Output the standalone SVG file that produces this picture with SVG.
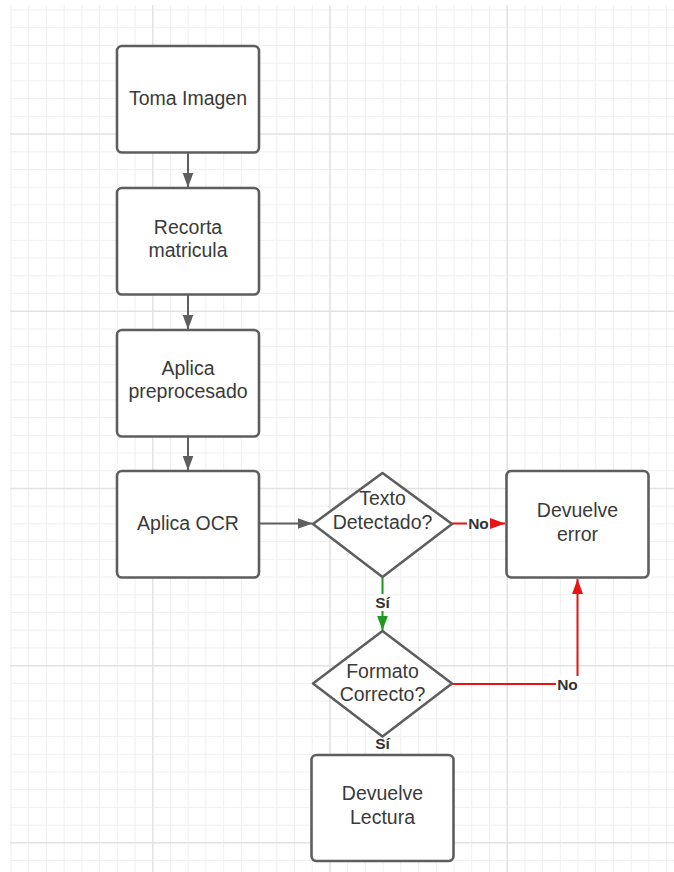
<svg xmlns="http://www.w3.org/2000/svg" width="674" height="872" viewBox="0 0 674 872">
  <defs>
    <style>
      .grid-minor { stroke: #efefef; stroke-width: 1; fill: none; }
      .grid-major { stroke: #e2e2e2; stroke-width: 1.5; fill: none; }
      .node { fill: #ffffff; stroke: #5e5e5e; stroke-width: 2.6; stroke-linejoin: round; }
      .label { font-family: "Liberation Sans", Arial, sans-serif; font-size: 19.5px; fill: #3a3a3a; text-anchor: middle; }
      .edge { fill: none; stroke-width: 2; }
      .gray { stroke: #5e5e5e; }
      .red { stroke: #e81313; }
      .green { stroke: #1f9a1f; }
      .tag { font-family: "Liberation Sans", Arial, sans-serif; font-size: 15.5px; font-weight: bold; fill: #333333; text-anchor: middle; }
      .tag-bg { fill: #ffffff; }
    </style>
    <marker id="arrow-gray" markerUnits="userSpaceOnUse" markerWidth="16" markerHeight="12" refX="15" refY="5.5" orient="auto">
      <path d="M0,0 L15,5.5 L0,11 Z" fill="#5e5e5e"/>
    </marker>
    <marker id="arrow-red" markerUnits="userSpaceOnUse" markerWidth="16" markerHeight="12" refX="15" refY="5.5" orient="auto">
      <path d="M0,0 L15,5.5 L0,11 Z" fill="#e81313"/>
    </marker>
    <marker id="arrow-green" markerUnits="userSpaceOnUse" markerWidth="16" markerHeight="12" refX="15" refY="5.5" orient="auto">
      <path d="M0,0 L15,5.5 L0,11 Z" fill="#1f9a1f"/>
    </marker>
  </defs>

  <rect x="0" y="0" width="674" height="872" fill="#ffffff"/>

  <!-- background grid: minor every 17.72px, major every 10 cells -->
  <g id="grid">
    <path class="grid-minor" d="M11 5V872M28.72 5V872M46.44 5V872M64.16 5V872M81.88 5V872M99.6 5V872M117.32 5V872M135.04 5V872M170.48 5V872M188.2 5V872M205.92 5V872M223.64 5V872M241.36 5V872M259.08 5V872M276.8 5V872M294.52 5V872M312.24 5V872M347.68 5V872M365.4 5V872M383.12 5V872M400.84 5V872M418.56 5V872M436.28 5V872M454 5V872M471.72 5V872M489.44 5V872M524.88 5V872M542.6 5V872M560.32 5V872M578.04 5V872M595.76 5V872M613.48 5V872M631.2 5V872M648.92 5V872M666.64 5V872"/>
    <path class="grid-minor" d="M10 10H674M10 27.72H674M10 45.44H674M10 63.16H674M10 80.88H674M10 98.6H674M10 116.32H674M10 151.76H674M10 169.48H674M10 187.2H674M10 204.92H674M10 222.64H674M10 240.36H674M10 258.08H674M10 275.8H674M10 293.52H674M10 328.96H674M10 346.68H674M10 364.4H674M10 382.12H674M10 399.84H674M10 417.56H674M10 435.28H674M10 453H674M10 470.72H674M10 506.16H674M10 523.88H674M10 541.6H674M10 559.32H674M10 577.04H674M10 594.76H674M10 612.48H674M10 630.2H674M10 647.92H674M10 683.36H674M10 701.08H674M10 718.8H674M10 736.52H674M10 754.24H674M10 771.96H674M10 789.68H674M10 807.4H674M10 825.12H674M10 860.56H674"/>
    <path class="grid-major" d="M152.76 5V872M329.96 5V872M507.16 5V872M10 134.04H674M10 311.24H674M10 488.44H674M10 665.64H674M10 842.84H674"/>
  </g>

  <!-- connectors -->
  <g id="connectors">
    <path class="edge gray" d="M188 153V187.5" marker-end="url(#arrow-gray)"/>
    <path class="edge gray" d="M188 295V329.5" marker-end="url(#arrow-gray)"/>
    <path class="edge gray" d="M188 437V470.5" marker-end="url(#arrow-gray)"/>
    <path class="edge gray" d="M260 523.5H312.5" marker-end="url(#arrow-gray)"/>

    <path class="edge red" d="M452 523.5H505" marker-end="url(#arrow-red)"/>
    <rect class="tag-bg" x="467" y="515" width="23" height="17"/>
    <text class="tag" x="478.5" y="529">No</text>

    <path class="edge green" d="M382.5 578V630.5" marker-end="url(#arrow-green)"/>
    <rect class="tag-bg" x="374" y="594" width="17" height="17"/>
    <text class="tag" x="382.5" y="608">Sí</text>

    <path class="edge red" d="M452 684H577.5V579" marker-end="url(#arrow-red)"/>
    <rect class="tag-bg" x="556" y="676" width="23" height="17"/>
    <text class="tag" x="567.5" y="689.5">No</text>

    <text class="tag" x="382.5" y="749">Sí</text>
  </g>

  <g id="toma-imagen">
    <rect class="node" x="117" y="46" width="142" height="106.5" rx="5"/>
    <text class="label" x="188" y="105">Toma Imagen</text>
  </g>

  <g id="recorta-matricula">
    <rect class="node" x="117" y="188" width="142" height="106.5" rx="5"/>
    <text class="label" x="188" y="233.5">Recorta</text>
    <text class="label" x="188" y="256.5">matricula</text>
  </g>

  <g id="aplica-preprocesado">
    <rect class="node" x="117" y="330" width="142" height="106.5" rx="5"/>
    <text class="label" x="188" y="374.5">Aplica</text>
    <text class="label" x="188" y="397.5">preprocesado</text>
  </g>

  <g id="aplica-ocr">
    <rect class="node" x="117" y="471" width="142" height="106.5" rx="5"/>
    <text class="label" x="188" y="529.5">Aplica OCR</text>
  </g>

  <g id="texto-detectado">
    <path class="node" d="M382.5 473L452 524L382.5 577L313 524Z"/>
    <text class="label" x="382.5" y="504.5">Texto</text>
    <text class="label" x="382.5" y="528.5">Detectado?</text>
  </g>

  <g id="devuelve-error">
    <rect class="node" x="506.5" y="471" width="142" height="106.5" rx="5"/>
    <text class="label" x="577.5" y="516.5">Devuelve</text>
    <text class="label" x="577.5" y="540.5">error</text>
  </g>

  <g id="formato-correcto">
    <path class="node" d="M382.5 631L452 683.5L382.5 736.5L313 683.5Z"/>
    <text class="label" x="382.5" y="677.5">Formato</text>
    <text class="label" x="382.5" y="700.5">Correcto?</text>
  </g>

  <g id="devuelve-lectura">
    <rect class="node" x="311.5" y="755" width="142" height="106" rx="5"/>
    <text class="label" x="382.5" y="800">Devuelve</text>
    <text class="label" x="382.5" y="824">Lectura</text>
  </g>
</svg>
